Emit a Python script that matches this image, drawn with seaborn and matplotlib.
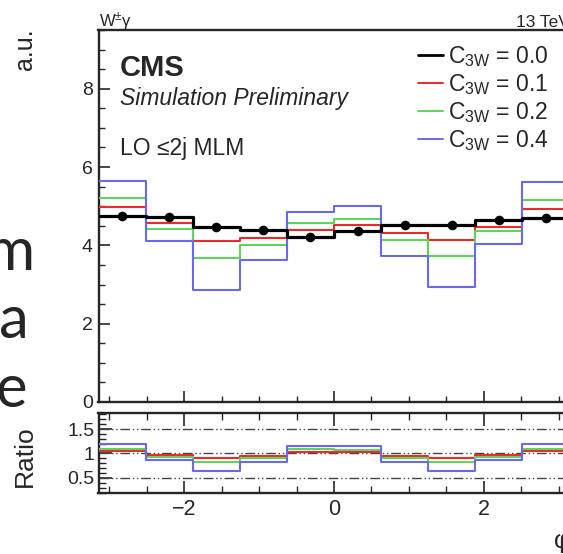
import numpy as np
import pandas as pd
import matplotlib
matplotlib.use("Agg")
import matplotlib.pyplot as plt
from matplotlib.ticker import MultipleLocator, FixedLocator
from matplotlib.lines import Line2D
import seaborn as sns

# ---- data: normalised phi distributions for several C_3W values ----
n_bins = 10
phi_edges = np.linspace(-np.pi, np.pi, n_bins + 1)
phi_centers = 0.5 * (phi_edges[:-1] + phi_edges[1:])

c3w_labels = ["0.0", "0.1", "0.2", "0.4"]
sm_c00 = [4.75, 4.73, 4.47, 4.40, 4.21, 4.36, 4.53, 4.53, 4.66, 4.70]
bsm_c01 = [4.97, 4.56, 4.10, 4.20, 4.38, 4.51, 4.32, 4.13, 4.47, 4.93]
bsm_c02 = [5.20, 4.42, 3.67, 4.00, 4.56, 4.67, 4.13, 3.74, 4.36, 5.15]
bsm_c04 = [5.65, 4.10, 2.87, 3.62, 4.84, 5.00, 3.74, 2.93, 4.03, 5.61]

series = [bsm_c01, bsm_c02, bsm_c04]
series_colors = ["#f02828", "#5ed45e", "#6a6ae6"]

W, H = 563, 554


def fx(x):
    return x / W


def fy(y):
    return 1 - y / H


def step_frame(values):
    """Bin edges with the matching step heights (last value repeated)."""
    v = list(values)
    return pd.DataFrame({"phi": phi_edges, "y": v + [v[-1]]})


def draw_step(axis, values, color, lw, z):
    d = step_frame(values)
    sns.lineplot(data=d, x="phi", y="y", drawstyle="steps-post", color=color,
                 linewidth=lw, ax=axis, zorder=z, estimator=None, sort=False)


sns.set_style("ticks")
plt.rcParams["font.family"] = ["Liberation Sans", "DejaVu Sans"]
plt.rcParams["mathtext.fontset"] = "custom"
plt.rcParams["mathtext.rm"] = "Liberation Sans"
plt.rcParams["mathtext.it"] = "Liberation Sans:italic"
plt.rcParams["mathtext.bf"] = "Liberation Sans:bold"

fig = plt.figure(figsize=(W / 100, H / 100), dpi=100)
fig.patch.set_facecolor("white")

left, right = 98.5, 569.5
ax = fig.add_axes([fx(left), fy(402), (right - left) / W, (402 - 30) / H])
axr = fig.add_axes([fx(left), fy(493), (right - left) / W, (493 - 413) / H])

# ---- main panel ----
for vals, col in zip(series, series_colors):
    draw_step(ax, vals, col, 1.5, 3)
draw_step(ax, sm_c00, "black", 2.3, 4)
sns.scatterplot(x=phi_centers, y=sm_c00, color="black", s=48, linewidth=0,
                ax=ax, zorder=5)

ax.set_xlim(-np.pi, np.pi)
ax.set_ylim(0, 9.5)
ax.set_xlabel("")
ax.set_ylabel("")
ax.yaxis.set_major_locator(FixedLocator([0, 2, 4, 6, 8]))
ax.yaxis.set_minor_locator(MultipleLocator(0.5))
ax.xaxis.set_major_locator(FixedLocator([-2, 0, 2]))
ax.xaxis.set_minor_locator(MultipleLocator(0.5))
ax.tick_params(axis="x", which="both", direction="in", labelbottom=False)
ax.tick_params(axis="both", which="major", direction="in", length=8, width=1.2)
ax.tick_params(axis="both", which="minor", direction="in", length=4, width=1.0)
ax.tick_params(axis="y", labelsize=14, pad=4)
for s in ax.spines.values():
    s.set_linewidth(1.7)
    s.set_visible(True)

# legend
handles = [Line2D([], [], color="black", lw=2.0)] + \
    [Line2D([], [], color=c, lw=1.4) for c in series_colors]
labels = [r"C$_{\mathrm{3W}}$ = " + v for v in c3w_labels]
leg = ax.legend(handles, labels, loc="upper left", bbox_to_anchor=(fx(418), fy(44)),
                bbox_transform=fig.transFigure, frameon=False, fontsize=16.5,
                handlelength=1.1, handletextpad=0.2, labelspacing=0.13,
                borderaxespad=0, borderpad=0)

# CMS labels
fig.text(fx(120), fy(68), "CMS", fontsize=21, fontweight="bold", va="center", ha="left")
fig.text(fx(120), fy(99), "Simulation Preliminary", fontsize=16.5, style="italic",
         va="center", ha="left")
fig.text(fx(120), fy(149), "LO \u22642j MLM", fontsize=16.5, va="center", ha="left")
fig.text(fx(99), fy(27), "W$^{\\pm}$\u03b3", fontsize=12, va="baseline", ha="left")
fig.text(fx(right), fy(27), "13 TeV", fontsize=12.5, va="baseline", ha="right")
fig.text(fx(25), fy(28), "a.u.", fontsize=18, rotation=90, va="top", ha="center")

# ---- ratio panel ----
sm_arr = np.asarray(sm_c00)
for vals, col in zip(series, series_colors):
    draw_step(axr, np.asarray(vals) / sm_arr, col, 1.5, 3)
for level in (0.5, 1.0, 1.5):
    axr.axhline(level, color="#444444", lw=1.0, dashes=(7, 2, 1, 2, 1, 2), zorder=2)

axr.set_xlim(-np.pi, np.pi)
axr.set_ylim(0.19, 1.83)
axr.set_xlabel("")
axr.set_ylabel("")
axr.yaxis.set_major_locator(FixedLocator([0.5, 1.0, 1.5]))
axr.yaxis.set_major_formatter(plt.FuncFormatter(lambda v, p: f"{v:g}"))
axr.yaxis.set_minor_locator(MultipleLocator(0.1))
axr.xaxis.set_major_locator(FixedLocator([-2, 0, 2]))
axr.xaxis.set_minor_locator(MultipleLocator(0.5))
axr.xaxis.set_major_formatter(plt.FuncFormatter(lambda v, p: f"{v:g}".replace("-", "\u2212")))
axr.tick_params(axis="both", which="major", direction="in", length=9, width=1.2)
axr.tick_params(axis="both", which="minor", direction="in", length=5, width=1.0)
axr.tick_params(axis="x", which="both", top=True)
axr.tick_params(axis="x", labelsize=15.5, pad=4)
axr.tick_params(axis="y", labelsize=14, pad=3)
for s in axr.spines.values():
    s.set_linewidth(1.7)
    s.set_visible(True)

fig.text(fx(25), fy(456), "Ratio", fontsize=19, rotation=90, va="center", ha="center")
fig.text(fx(554), fy(541), "\u03c6", fontsize=18, va="center", ha="left")

# fragments of the surrounding slide text
for letter, xr, yb in (("m", 35, 270), ("a", 29, 338), ("e", 27, 407)):
    fig.text(fx(xr), fy(yb), letter, fontsize=43, family=["Lato", "DejaVu Sans"],
             va="baseline", ha="right")

fig.savefig("out.png", dpi=100)
